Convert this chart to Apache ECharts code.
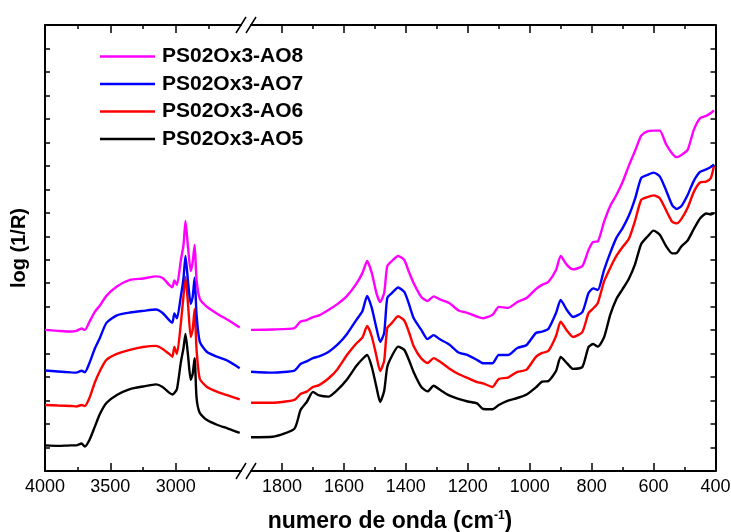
<!DOCTYPE html>
<html>
<head>
<meta charset="utf-8">
<script src="https://cdn.jsdelivr.net/npm/echarts@6/dist/echarts.min.js"></script>
<style>
  html, body { margin: 0; padding: 0; background: #ffffff; }
  #chart { width: 731px; height: 532px; }
</style>
</head>
<body>
<div id="chart"></div>
<script>
// Sample names (legend order, top to bottom)
const seriesNames = ['PS02Ox3-AO8', 'PS02Ox3-AO7', 'PS02Ox3-AO6', 'PS02Ox3-AO5'];
const seriesColors = ['#ff00ff', '#0000ff', '#ff0000', '#000000'];

// High wavenumber region (cm-1), left panel
const wnHigh = [4000, 3900, 3800, 3760, 3720, 3695, 3660, 3620, 3580, 3530, 3450, 3350, 3250, 3150, 3100, 3050,
  3025, 3010, 2990, 2960, 2940, 2925, 2905, 2885, 2870, 2855, 2840, 2815, 2760, 2680, 2600, 2510];

const ao8High = [0.601, 0.597, 0.594, 0.597, 0.607, 0.601, 0.635, 0.677, 0.705, 0.746, 0.786, 0.814, 0.820, 0.829, 0.822, 0.793,
  0.783, 0.812, 0.793, 0.899, 0.963, 1.065, 0.950, 0.852, 0.890, 0.963, 0.814, 0.733, 0.699, 0.669, 0.643, 0.611];
const ao7High = [0.428, 0.424, 0.420, 0.419, 0.427, 0.421, 0.460, 0.520, 0.567, 0.631, 0.663, 0.675, 0.682, 0.688, 0.673, 0.643,
  0.632, 0.671, 0.650, 0.746, 0.822, 0.916, 0.805, 0.712, 0.741, 0.824, 0.665, 0.550, 0.507, 0.486, 0.469, 0.438];
const ao6High = [0.281, 0.279, 0.277, 0.275, 0.281, 0.277, 0.311, 0.375, 0.426, 0.473, 0.499, 0.516, 0.528, 0.533, 0.520, 0.499,
  0.487, 0.528, 0.499, 0.631, 0.746, 0.827, 0.707, 0.571, 0.601, 0.690, 0.516, 0.392, 0.358, 0.337, 0.322, 0.305];
const ao5High = [0.109, 0.107, 0.109, 0.109, 0.117, 0.104, 0.132, 0.187, 0.243, 0.290, 0.324, 0.349, 0.360, 0.369, 0.358, 0.334,
  0.326, 0.332, 0.349, 0.464, 0.524, 0.584, 0.490, 0.388, 0.413, 0.481, 0.311, 0.247, 0.217, 0.196, 0.181, 0.162];

// Fingerprint region (cm-1), right panel
const wnLow = [1900, 1830, 1760, 1740, 1720, 1700, 1680, 1650, 1620, 1590, 1560, 1540, 1525, 1510, 1495, 1483, 1470,
  1460, 1445, 1425, 1405, 1390, 1375, 1350, 1330, 1310, 1290, 1260, 1230, 1200, 1170, 1150, 1120, 1100, 1070,
  1040, 1010, 980, 960, 940, 915, 900, 880, 860, 830, 810, 795, 780, 760, 740, 720, 700, 680, 660, 640, 620,
  600, 580, 560, 540, 525, 510, 490, 470, 450, 430, 415, 405];

const ao8Low = [0.601, 0.603, 0.609, 0.637, 0.643, 0.656, 0.663, 0.686, 0.712, 0.746, 0.797, 0.844, 0.895, 0.844, 0.758, 0.720, 0.758,
  0.873, 0.895, 0.916, 0.899, 0.848, 0.801, 0.741, 0.724, 0.744, 0.731, 0.716, 0.684, 0.673, 0.658, 0.651, 0.665, 0.699, 0.695,
  0.720, 0.737, 0.775, 0.793, 0.805, 0.856, 0.916, 0.878, 0.859, 0.873, 0.942, 0.976, 0.978, 1.061, 1.129, 1.176, 1.231, 1.300,
  1.363, 1.429, 1.447, 1.450, 1.450, 1.393, 1.353, 1.337, 1.346, 1.368, 1.453, 1.503, 1.513, 1.525, 1.536];
const ao7Low = [0.423, 0.419, 0.428, 0.456, 0.467, 0.481, 0.488, 0.507, 0.539, 0.584, 0.643, 0.682, 0.746, 0.695, 0.609, 0.550, 0.588,
  0.737, 0.758, 0.782, 0.763, 0.712, 0.652, 0.601, 0.562, 0.579, 0.561, 0.539, 0.505, 0.494, 0.473, 0.459, 0.459, 0.494, 0.494,
  0.524, 0.537, 0.588, 0.594, 0.605, 0.673, 0.729, 0.686, 0.656, 0.677, 0.758, 0.778, 0.771, 0.856, 0.929, 0.993, 1.035, 1.087,
  1.159, 1.248, 1.261, 1.271, 1.255, 1.197, 1.133, 1.116, 1.129, 1.176, 1.236, 1.274, 1.285, 1.295, 1.306];
const ao6Low = [0.291, 0.291, 0.303, 0.328, 0.338, 0.358, 0.366, 0.394, 0.435, 0.494, 0.543, 0.569, 0.618, 0.573, 0.490, 0.426, 0.469,
  0.609, 0.631, 0.659, 0.641, 0.592, 0.533, 0.479, 0.460, 0.481, 0.466, 0.437, 0.413, 0.396, 0.379, 0.373, 0.358, 0.392, 0.398,
  0.422, 0.432, 0.486, 0.503, 0.511, 0.575, 0.636, 0.599, 0.571, 0.592, 0.673, 0.692, 0.716, 0.807, 0.865, 0.916, 0.954, 0.988,
  1.065, 1.155, 1.167, 1.174, 1.162, 1.112, 1.062, 1.055, 1.074, 1.121, 1.189, 1.229, 1.233, 1.248, 1.300];
const ao5Low = [0.144, 0.146, 0.180, 0.260, 0.294, 0.337, 0.322, 0.317, 0.347, 0.390, 0.447, 0.477, 0.494, 0.444, 0.358, 0.294, 0.341,
  0.443, 0.490, 0.530, 0.516, 0.473, 0.422, 0.358, 0.339, 0.363, 0.346, 0.322, 0.307, 0.296, 0.288, 0.264, 0.263, 0.281, 0.300,
  0.311, 0.326, 0.356, 0.381, 0.383, 0.426, 0.486, 0.460, 0.435, 0.443, 0.528, 0.541, 0.530, 0.569, 0.665, 0.733, 0.775, 0.818,
  0.880, 0.967, 0.998, 1.024, 1.006, 0.959, 0.927, 0.929, 0.957, 0.982, 1.031, 1.076, 1.097, 1.093, 1.098];

// Axis ticks
const tickLabelsHigh = [4000, 3500, 3000];
const minorTicksHigh = [3750, 3250, 2750];
const tickLabelsLow = [1800, 1600, 1400, 1200, 1000, 800, 600, 400];
const minorTicksLow = [1700, 1500, 1300, 1100, 900, 700, 500];
const rangeHigh = [2500, 4000];
const rangeLow = [400, 1900];

const FONT = '"Liberation Sans", Arial, Helvetica, sans-serif';
const highSets = [ao8High, ao7High, ao6High, ao5High];
const lowSets = [ao8Low, ao7Low, ao6Low, ao5Low];

function xAxisDef(gridIndex, range, position, major, values, showLine) {
  return {
    type: 'value', gridIndex: gridIndex, position: position,
    min: range[0], max: range[1], inverse: true,
    axisLine: { show: showLine, onZero: false, lineStyle: { color: '#000', width: 2 } },
    axisTick: { show: true, inside: true, length: major ? 8 : 4, customValues: values,
      lineStyle: { color: '#000', width: 1.5 } },
    axisLabel: { show: major && position === 'bottom', customValues: values, margin: 7,
      formatter: (v) => String(v),
      color: '#000', fontSize: 18, fontFamily: FONT },
    splitLine: { show: false }
  };
}

function yAxisDef(gridIndex, position, withName) {
  const ax = {
    type: 'value', gridIndex: gridIndex, position: position,
    min: 0, max: 1.9, interval: 0.1,
    axisLine: { show: true, onZero: false, lineStyle: { color: '#000', width: 2 } },
    axisTick: { show: true, inside: true, length: 5, lineStyle: { color: '#000', width: 1.5 } },
    axisLabel: { show: false },
    splitLine: { show: false }
  };
  if (withName) {
    ax.name = 'log (1/R)';
    ax.nameLocation = 'middle';
    ax.nameRotate = 90;
    ax.nameGap = 16;
    ax.nameTextStyle = { color: '#000', fontSize: 20, fontWeight: 'bold', fontFamily: FONT };
  }
  return ax;
}

const series = [];
// draw black first so magenta ends on top
for (let k = seriesNames.length - 1; k >= 0; k--) {
  const common = {
    type: 'line', name: seriesNames[k], symbol: 'none', smooth: 0.2,
    lineStyle: { width: 2.4, color: seriesColors[k] },
    itemStyle: { color: seriesColors[k] },
    emphasis: { disabled: true }
  };
  series.push(Object.assign({}, common, {
    xAxisIndex: 0, yAxisIndex: 0,
    data: wnHigh.map((w, i) => [w, highSets[k][i]])
  }));
  series.push(Object.assign({}, common, {
    xAxisIndex: 4, yAxisIndex: 1,
    data: wnLow.map((w, i) => [w, lowSets[k][i]])
  }));
}

const chart = echarts.init(document.getElementById('chart'), null, { renderer: 'canvas' });

const option = {
  animation: false,
  backgroundColor: '#ffffff',
  grid: [
    { left: 45, top: 25, width: 196, height: 446, outerBoundsMode: 'none', containLabel: false },
    { left: 251, top: 25, right: 15.5, height: 446, outerBoundsMode: 'none', containLabel: false }
  ],
  xAxis: [
    xAxisDef(0, rangeHigh, 'bottom', true, tickLabelsHigh, true),
    xAxisDef(0, rangeHigh, 'bottom', false, minorTicksHigh, false),
    xAxisDef(0, rangeHigh, 'top', true, tickLabelsHigh, true),
    xAxisDef(0, rangeHigh, 'top', false, minorTicksHigh, false),
    xAxisDef(1, rangeLow, 'bottom', true, tickLabelsLow, true),
    xAxisDef(1, rangeLow, 'bottom', false, minorTicksLow, false),
    xAxisDef(1, rangeLow, 'top', true, tickLabelsLow, true),
    xAxisDef(1, rangeLow, 'top', false, minorTicksLow, false)
  ],
  yAxis: [
    yAxisDef(0, 'left', true),
    yAxisDef(1, 'right', false)
  ],
  legend: {
    data: seriesNames,
    orient: 'vertical',
    left: 100, top: 46, padding: 0,
    icon: 'rect',
    itemWidth: 55, itemHeight: 2.5, itemGap: 6.5,
    textStyle: { color: '#000', fontSize: 21, fontWeight: 'bold', fontFamily: FONT, lineHeight: 20, padding: [0, 0, 0, 2] },
    selectedMode: false
  },
  series: series
};

chart.setOption(option);

// Axis break marks and bottom title
const xBreakL = chart.convertToPixel({ xAxisIndex: 0 }, rangeHigh[0]);
const xBreakR = chart.convertToPixel({ xAxisIndex: 4 }, rangeLow[1]);
const yBottom = chart.convertToPixel({ yAxisIndex: 0 }, 0);
const yTop = chart.convertToPixel({ yAxisIndex: 0 }, 1.9);

function slash(cx, cy) {
  return {
    type: 'line', silent: true, z: 50,
    shape: { x1: cx - 5, y1: cy + 8, x2: cx + 5, y2: cy - 8 },
    style: { stroke: '#000', lineWidth: 1.5 }
  };
}

chart.setOption({
  graphic: [
    slash(xBreakL, yTop), slash(xBreakR, yTop),
    slash(xBreakL, yBottom), slash(xBreakR, yBottom),
    {
      type: 'text', silent: true, x: 390, y: 522,
      style: {
        text: '{t|numero de onda (cm}{s|-1}{t|)}',
        align: 'center', verticalAlign: 'middle',
        rich: {
          t: { fontSize: 23, fontWeight: 'bold', fontFamily: FONT, fill: '#000', lineHeight: 24 },
          s: { fontSize: 12, fontWeight: 'bold', fontFamily: FONT, fill: '#000', verticalAlign: 'top', lineHeight: 24 }
        }
      }
    }
  ]
});
</script>
</body>
</html>
